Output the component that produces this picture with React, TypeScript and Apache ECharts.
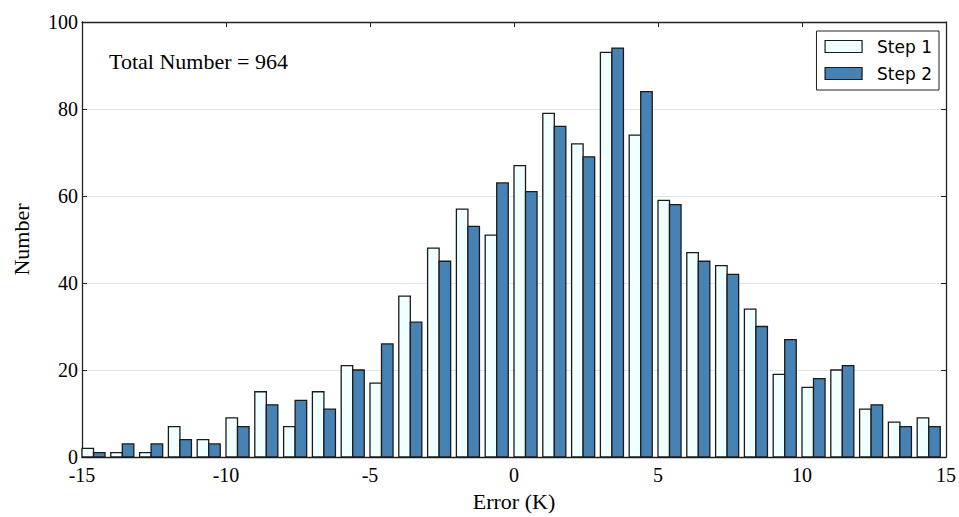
import React, { useEffect, useRef } from "react";
import * as echarts from "echarts";

const binStarts = [-15, -14, -13, -12, -11, -10, -9, -8, -7, -6, -5, -4, -3, -2, -1, 0, 1, 2, 3, 4, 5, 6, 7, 8, 9, 10, 11, 12, 13, 14];
const step1 = [2, 1, 1, 7, 4, 9, 15, 7, 15, 21, 17, 37, 48, 57, 51, 67, 79, 72, 93, 74, 59, 47, 44, 34, 19, 16, 20, 11, 8, 9];
const step2 = [1, 3, 3, 4, 3, 7, 12, 13, 11, 20, 26, 31, 45, 53, 63, 61, 76, 69, 94, 84, 58, 45, 42, 30, 27, 18, 21, 12, 7, 7];
const binWidth = 1;
const barFrac = 0.4;

const SERIF = "'Liberation Serif', 'Times New Roman', serif";

function makeRender(offset: number, fill: string) {
  return (params: any, api: any) => {
    const x0 = api.value(0) + offset * binWidth;
    const v = api.value(1);
    const p0 = api.coord([x0, 0]);
    const p1 = api.coord([x0 + barFrac * binWidth, v]);
    return {
      type: "rect",
      shape: { x: p0[0], y: p1[1], width: p1[0] - p0[0], height: p0[1] - p1[1] },
      style: { fill, stroke: "#1a1a1a", lineWidth: 1.3 },
    };
  };
}

export default function App() {
  const ref = useRef<HTMLDivElement>(null);
  useEffect(() => {
    document.body.style.margin = "0";
    const chart = echarts.init(ref.current!, null, { renderer: "svg" });
    const axisCommon = {
      axisLine: { show: true, onZero: false, lineStyle: { color: "#222", width: 1.3 } },
      axisTick: { show: true, inside: true, length: 5, lineStyle: { color: "#222" } },
    };
    chart.setOption({
      animation: false,
      backgroundColor: "#fff",
      grid: { left: 82, right: 11, top: 22, bottom: 57 },
      legend: {
        orient: "vertical",
        right: 20,
        top: 31,
        data: [
          { name: "Step 1", icon: "rect" },
          { name: "Step 2", icon: "rect" },
        ],
        itemWidth: 37,
        itemHeight: 12,
        itemGap: 10,
        padding: [7, 7, 8, 8],
        borderColor: "#222",
        borderWidth: 1,
        backgroundColor: "#fff",
        textStyle: {
          fontFamily: "'DejaVu Sans', sans-serif",
          fontSize: 17,
          lineHeight: 17,
          color: "#000",
          padding: [0, 0, 0, 10],
        },
        itemStyle: { borderColor: "#1a1a1a", borderWidth: 1.2 },
      },
      graphic: [
        {
          type: "text",
          left: 109,
          top: 50,
          style: { text: "Total Number = 964", font: `22px ${SERIF}`, fill: "#000" },
        },
      ],
      xAxis: [
        {
          type: "value",
          min: -15,
          max: 15,
          interval: 5,
          position: "bottom",
          ...axisCommon,
          splitLine: { show: false },
          axisLabel: { fontFamily: SERIF, fontSize: 20, color: "#000", margin: 8 },
          name: "Error (K)",
          nameLocation: "middle",
          nameGap: 33,
          nameTextStyle: { fontFamily: SERIF, fontSize: 22, color: "#000" },
        },
        {
          type: "value",
          min: -15,
          max: 15,
          interval: 5,
          position: "top",
          ...axisCommon,
          splitLine: { show: false },
          axisLabel: { show: false },
        },
      ],
      yAxis: [
        {
          type: "value",
          min: 0,
          max: 100,
          interval: 20,
          position: "left",
          ...axisCommon,
          splitLine: { show: true, lineStyle: { color: "#e4e4e4", width: 1 } },
          axisLabel: { fontFamily: SERIF, fontSize: 20, color: "#000", margin: 4 },
          name: "Number",
          nameLocation: "middle",
          nameGap: 50,
          nameTextStyle: { fontFamily: SERIF, fontSize: 22, color: "#000" },
        },
        {
          type: "value",
          min: 0,
          max: 100,
          interval: 20,
          position: "right",
          ...axisCommon,
          splitLine: { show: false },
          axisLabel: { show: false },
        },
      ],
      series: [
        {
          name: "Step 1",
          type: "custom",
          xAxisIndex: 0,
          yAxisIndex: 0,
          itemStyle: { color: "#F0FFFF", borderColor: "#1a1a1a", borderWidth: 1.2 },
          renderItem: makeRender(0, "#F0FFFF"),
          encode: { x: 0, y: 1 },
          data: binStarts.map((b, i) => [b, step1[i]]),
        },
        {
          name: "Step 2",
          type: "custom",
          xAxisIndex: 0,
          yAxisIndex: 0,
          itemStyle: { color: "#4682B4", borderColor: "#1a1a1a", borderWidth: 1.2 },
          renderItem: makeRender(barFrac, "#4682B4"),
          encode: { x: 0, y: 1 },
          data: binStarts.map((b, i) => [b, step2[i]]),
        },
      ],
    });
    return () => chart.dispose();
  }, []);
  return <div ref={ref} style={{ width: 959, height: 517 }} />;
}
